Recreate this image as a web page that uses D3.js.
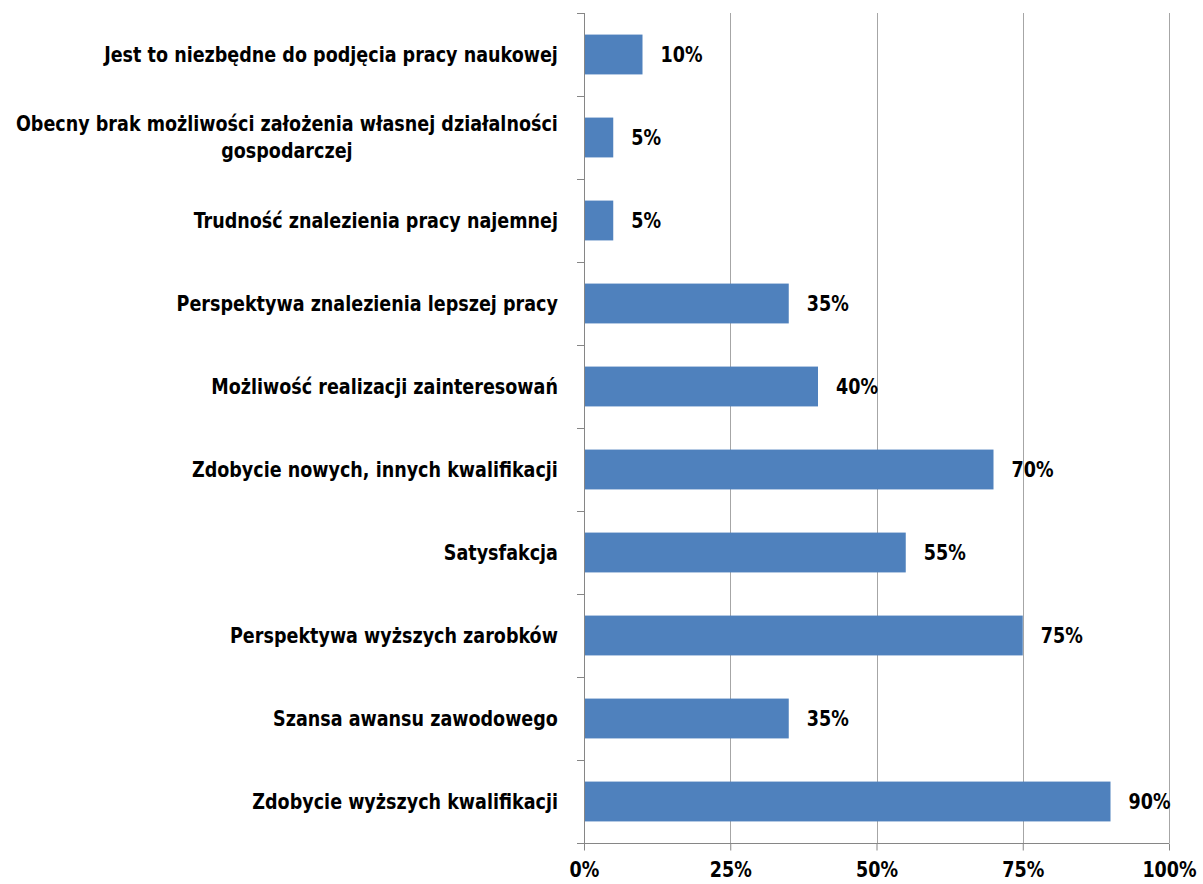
<!DOCTYPE html>
<html>
<head>
<meta charset="utf-8">
<script src="https://cdn.jsdelivr.net/npm/d3@7"></script>
<style>
  body { margin: 0; background: #fff; }
  text { font-family: "DejaVu Sans", sans-serif; font-stretch: condensed; font-weight: bold; }
</style>
</head>
<body>
<svg id="chart" width="1203" height="884"></svg>
<script>
var categories = [
  "Jest to niezbędne do podjęcia pracy naukowej",
  "Obecny brak możliwości założenia własnej działalności\ngospodarczej",
  "Trudność znalezienia pracy najemnej",
  "Perspektywa znalezienia lepszej pracy",
  "Możliwość realizacji zainteresowań",
  "Zdobycie nowych, innych kwalifikacji",
  "Satysfakcja",
  "Perspektywa wyższych zarobków",
  "Szansa awansu zawodowego",
  "Zdobycie wyższych kwalifikacji"
];
var values = [10, 5, 5, 35, 40, 70, 55, 75, 35, 90];
var xTicks = [0, 25, 50, 75, 100];

var svg = d3.select("#chart");
var plotLeft = 584, plotRight = 1169, plotTop = 13, plotBottom = 843;
var squeeze = 0.93;

var x = d3.scaleLinear().domain([0, 100]).range([plotLeft, plotRight]);
var y = d3.scaleBand().domain(categories).range([plotTop, plotBottom]).paddingInner(0.52).paddingOuter(0.26);

// gridlines
svg.append("g").selectAll("line")
  .data(xTicks.slice(1))
  .enter().append("line")
  .attr("x1", d => Math.round(x(d)) + 0.5).attr("x2", d => Math.round(x(d)) + 0.5)
  .attr("y1", plotTop).attr("y2", plotBottom)
  .attr("stroke", "#a6a6a6").attr("stroke-width", 1);

// bars
svg.append("g").selectAll("rect")
  .data(values)
  .enter().append("rect")
  .attr("x", x(0))
  .attr("y", (d, i) => y(categories[i]))
  .attr("width", d => x(d) - x(0))
  .attr("height", y.bandwidth())
  .attr("fill", "#4f81bd");

// value labels
svg.append("g").selectAll("text")
  .data(values)
  .enter().append("text")
  .attr("transform", (d, i) => "translate(" + (x(d) + 18) + "," + (y(categories[i]) + y.bandwidth() / 2) + ") scale(" + squeeze + ",1)")
  .attr("dy", "0.35em")
  .attr("font-size", 21)
  .attr("fill", "#000")
  .text(d => d + "%");

// left axis with category ticks
var step = (plotBottom - plotTop) / categories.length;
var ax = svg.append("g");
ax.append("line")
  .attr("x1", plotLeft + 0.5).attr("x2", plotLeft + 0.5)
  .attr("y1", plotTop).attr("y2", plotBottom)
  .attr("stroke", "#868686");
ax.selectAll("line.tk")
  .data(d3.range(categories.length + 1))
  .enter().append("line").attr("class", "tk")
  .attr("x1", plotLeft - 7).attr("x2", plotLeft)
  .attr("y1", d => Math.round(plotTop + d * step) + 0.5)
  .attr("y2", d => Math.round(plotTop + d * step) + 0.5)
  .attr("stroke", "#868686");

// category labels: right-aligned block, wrapped lines centred on the widest one
ax.selectAll("text.cat")
  .data(categories)
  .enter().append("text").attr("class", "cat")
  .attr("text-anchor", "middle")
  .attr("font-size", 21)
  .attr("fill", "#000")
  .each(function(d) {
    var lines = d.split("\n");
    var t = d3.select(this);
    var lh = 27;
    var spans = lines.map(function(l, k) {
      return t.append("tspan")
        .attr("x", 0)
        .attr("y", (k - (lines.length - 1) / 2) * lh)
        .attr("dy", "0.35em")
        .text(l);
    });
    var w = d3.max(spans, s => s.node().getComputedTextLength());
    spans.forEach(s => s.attr("x", -w / 2));
    t.attr("transform", "translate(558," + (y(d) + y.bandwidth() / 2) + ") scale(" + squeeze + ",1)");
  });

// bottom axis
var xAxis = d3.axisBottom(x).tickValues(xTicks).tickSize(7).tickFormat(d => d + "%");
var bx = svg.append("g").attr("transform", "translate(0," + (plotBottom + 0.5) + ")").call(xAxis);
bx.select(".domain").attr("stroke", "#868686").attr("d", "M" + (plotLeft - 7) + ",0H" + plotRight);
bx.selectAll(".tick line").attr("stroke", "#868686");
bx.selectAll(".tick text")
  .attr("font-family", null)
  .attr("font-size", 21)
  .attr("fill", "#000")
  .attr("dy", "0.71em")
  .attr("y", 0)
  .attr("transform", "translate(0,19) scale(" + squeeze + ",1)");
</script>
</body>
</html>
